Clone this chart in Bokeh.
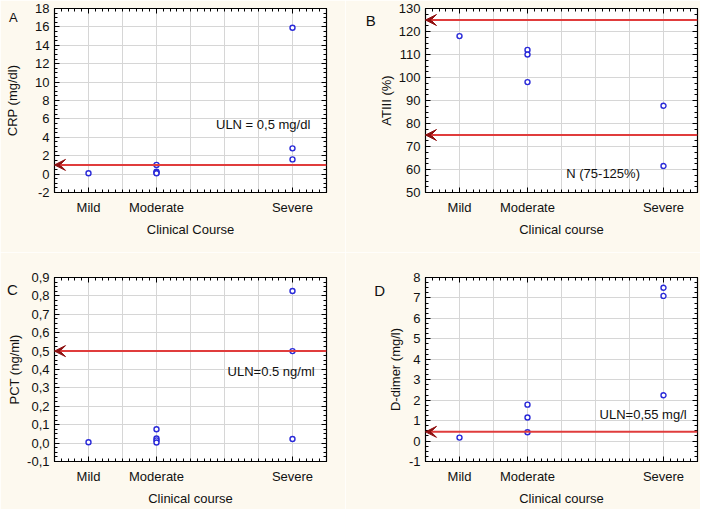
import math
from bokeh.plotting import figure
from bokeh.layouts import gridplot
from bokeh.models import (FixedTicker, CustomJSTickFormatter, LinearAxis, Range1d,
                          Arrow, VeeHead, Label)
from bokeh.embed import file_html
from bokeh.resources import INLINE

# ---------------- data ----------------
categories = ["Mild", "Moderate", "Severe"]
category_pos = [1, 3, 7]

crp_course = ["Mild", "Moderate", "Moderate", "Moderate", "Moderate", "Severe", "Severe", "Severe"]
crp_values = [0.1, 1.0, 0.25, 0.15, 0.1, 15.9, 2.8, 1.6]
crp_limits = [1.0]

at3_course = ["Mild", "Moderate", "Moderate", "Moderate", "Severe", "Severe"]
at3_values = [118, 112, 110, 98, 87.7, 61.5]
at3_limits = [125, 75]

pct_course = ["Mild", "Moderate", "Moderate", "Moderate", "Moderate", "Severe", "Severe", "Severe"]
pct_values = [0.005, 0.075, 0.025, 0.015, 0.003, 0.827, 0.5, 0.022]
pct_limits = [0.5]

dd_course = ["Mild", "Moderate", "Moderate", "Moderate", "Severe", "Severe", "Severe"]
dd_values = [0.17, 1.78, 1.15, 0.43, 7.5, 7.1, 2.24]
dd_limits = [0.45]

# ---------------- style ----------------
FONT = "Liberation Sans"
TXT = "#111111"
BORDER_BG = "#fdf9ef"
GRID = "#d6d6d6"
RED = "#e03c3c"
DARK_RED = "#8e1111"
BLUE = "#2a2ad8"


def make_panel(letter, letter_size, letter_side, letter_xy, ylabel, ylabel_x, xlabel,
               ylo, yhi, ystep, decimals, course, values, limits, note, note_xy,
               width, height, mb_left, mb_right, mb_top, mb_bottom):
    xlo, xhi = category_pos[0] - 1, category_pos[-1] + 1
    p = figure(width=width, height=height, output_backend="svg", toolbar_location=None,
               x_range=Range1d(xlo, xhi), y_range=Range1d(ylo, yhi),
               min_border_left=mb_left, min_border_right=mb_right,
               min_border_top=mb_top, min_border_bottom=mb_bottom,
               x_axis_location=None, y_axis_location=None)
    p.background_fill_color = "white"
    p.border_fill_color = BORDER_BG
    p.outline_line_color = "black"
    p.outline_line_width = 1.2

    n = int(round((yhi - ylo) / ystep))
    yticks = [round(ylo + i * ystep, 6) for i in range(n + 1)]
    yminor = [round(ylo + i * ystep / 4, 6) for i in range(4 * n + 1)]
    xgrid_ticks = list(range(xlo + 1, xhi))
    xminor = [round(xlo + i * 0.2, 6) for i in range(int((xhi - xlo) / 0.2) + 1)]

    xfmt = CustomJSTickFormatter(args=dict(pos=category_pos, names=categories),
                                 code="const i = pos.indexOf(tick); return i >= 0 ? names[i] : '';")
    yfmt = CustomJSTickFormatter(args=dict(d=decimals),
                                 code="return tick.toFixed(d).replace('.', ',');")
    blank = CustomJSTickFormatter(code="return '';")

    def style(ax, ticker, fmt, labels=True):
        ax.ticker = ticker
        ax.formatter = fmt
        ax.major_tick_in = 5
        ax.major_tick_out = 0
        ax.minor_tick_in = 3
        ax.minor_tick_out = 0
        ax.major_tick_line_color = "black"
        ax.minor_tick_line_color = "black"
        ax.axis_line_color = "black"
        ax.major_label_text_font = FONT
        ax.major_label_text_color = TXT
        ax.axis_label_text_font = FONT
        ax.axis_label_text_color = TXT
        ax.axis_label_text_font_style = "normal"
        ax.axis_label_text_font_size = "13px"
        if labels:
            ax.major_label_text_font_size = "13px"
            ax.major_label_standoff = 5
        else:
            ax.major_label_text_font_size = "0px"
            ax.major_label_standoff = 0

    xb = LinearAxis(axis_label=xlabel)
    style(xb, FixedTicker(ticks=category_pos, minor_ticks=xminor), xfmt)
    xb.major_label_standoff = 7
    xb.axis_label_standoff = 4
    p.add_layout(xb, "below")
    xt = LinearAxis()
    style(xt, FixedTicker(ticks=category_pos, minor_ticks=xminor), blank, labels=False)
    p.add_layout(xt, "above")

    yl = LinearAxis()
    style(yl, FixedTicker(ticks=yticks, minor_ticks=yminor), yfmt)
    p.add_layout(yl, "left")
    yr = LinearAxis()
    style(yr, FixedTicker(ticks=yticks, minor_ticks=yminor), blank, labels=False)
    p.add_layout(yr, "right")

    p.xgrid.ticker = FixedTicker(ticks=xgrid_ticks)
    p.ygrid.ticker = FixedTicker(ticks=yticks)
    for g in (p.xgrid, p.ygrid):
        g.grid_line_color = GRID
        g.grid_line_width = 1

    # reference limit lines with arrowheads
    for v in limits:
        p.add_layout(Arrow(end=VeeHead(size=11, fill_color=DARK_RED, line_color=DARK_RED,
                                       line_width=1),
                           x_start=xhi, y_start=v, x_end=xlo, y_end=v,
                           line_color=RED, line_width=2))

    xs = [category_pos[categories.index(c)] for c in course]
    p.scatter(x=xs, y=values, marker="circle", size=5, fill_color="white",
              line_color=BLUE, line_width=1.4)

    p.add_layout(Label(x=note_xy[0], y=note_xy[1], text=note, text_font=FONT,
                       text_font_size="13px", text_color=TXT, text_baseline="middle"))

    # rotated y-axis title, drawn in the left border
    p.add_layout(Label(x=ylabel_x, y=(ylo + yhi) / 2, text=ylabel, angle=math.pi / 2,
                       text_font=FONT, text_font_size="13px", text_color=TXT,
                       text_align="center", text_baseline="middle"), "left")
    # panel letter
    p.add_layout(Label(x=letter_xy[0], y=letter_xy[1], text=letter, text_font=FONT,
                       text_font_size=letter_size, text_color=TXT,
                       text_align="center", text_baseline="middle"), letter_side)
    return p


# frame 272 x 184 in every panel
pA = make_panel("A", "13px", "left", (-1.21, 17.06), "CRP (mg/dl)", -1.235, "Clinical Course",
                -2, 18, 2, 0, crp_course, crp_values, crp_limits, "ULN = 0,5 mg/dl", (4.75, 5.4),
                345, 252, 54, 19, 8, 60)
pB = make_panel("B", "15px", "left", (-1.61, 124.6), "ATIII (%)", -1.15, "Clinical course",
                50, 130, 10, 0, at3_course, at3_values, at3_limits, "N (75-125%)", (4.14, 58.3),
                355, 252, 80, 3, 8, 60)
pC = make_panel("C", "15px", "above", (-1.24, 0.833), "PCT (ng/ml)", -1.18, "Clinical course",
                -0.1, 0.9, 0.1, 1, pct_course, pct_values, pct_limits, "ULN=0.5 ng/ml", (5.09, 0.387),
                345, 257, 54, 19, 25, 48)
pD = make_panel("D", "15px", "left", (-1.35, 7.35), "D-dimer (mg/l)", -0.89, "Clinical course",
                -1, 8, 1, 0, dd_course, dd_values, dd_limits, "ULN=0,55 mg/l", (5.12, 1.28),
                355, 257, 80, 3, 25, 48)

grid = gridplot([[pA, pB], [pC, pD]], toolbar_location=None)

with open("out.html", "w") as f:
    f.write(file_html(grid, INLINE))
